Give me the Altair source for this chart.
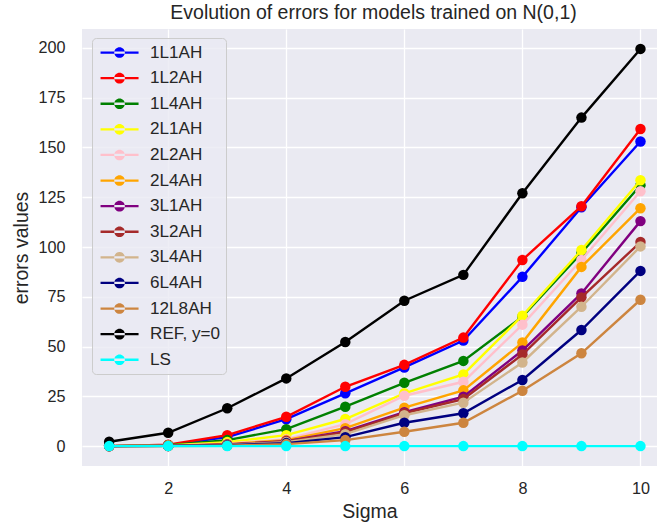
import altair as alt
import pandas as pd

# Noise level on the x axis
sigma = [1, 2, 3, 4, 5, 6, 7, 8, 9, 10]

# Error values per model
series_names = ["1L1AH", "1L2AH", "1L4AH", "2L1AH", "2L2AH", "2L4AH", "3L1AH",
                "3L2AH", "3L4AH", "6L4AH", "12L8AH", "REF, y=0", "LS"]
series_colors = ["#0000FF", "#FF0000", "#008000", "#FFFF00", "#FFC0CB", "#FFA500",
                 "#800080", "#A52A2A", "#D2B48C", "#000080", "#CD853F", "#000000",
                 "#00FFFF"]

err_1l1ah = [0.0, 0.5, 4.5, 13.5, 26.5, 39.5, 53.0, 85.0, 120.0, 153.0]
err_1l2ah = [0.0, 0.7, 5.5, 14.7, 29.8, 40.8, 54.5, 93.5, 120.5, 159.3]
err_1l4ah = [0.0, 0.4, 3.0, 8.5, 19.8, 31.8, 42.8, 65.0, 97.0, 131.0]
err_2l1ah = [0.0, 0.3, 2.0, 5.5, 13.6, 26.5, 36.0, 65.5, 98.5, 133.5]
err_2l2ah = [0.0, 0.2, 1.2, 3.5, 11.0, 25.3, 32.3, 61.0, 93.5, 128.0]
err_2l4ah = [0.0, 0.2, 1.0, 3.0, 9.0, 19.3, 28.0, 52.0, 90.0, 119.5]
err_3l1ah = [0.0, 0.1, 0.8, 2.5, 7.5, 17.0, 24.8, 48.0, 76.7, 113.0]
err_3l2ah = [0.0, 0.1, 0.7, 2.3, 7.0, 16.5, 23.6, 46.0, 74.7, 102.5]
err_3l4ah = [0.0, 0.1, 0.6, 2.0, 6.0, 15.5, 21.8, 42.0, 70.0, 100.3]
err_6l4ah = [0.0, 0.1, 0.4, 1.5, 4.5, 11.7, 16.5, 33.2, 58.3, 88.0]
err_12l8ah = [0.0, 0.0, 0.2, 1.0, 3.0, 7.2, 11.7, 27.8, 46.6, 73.5]
err_ref = [2.2, 6.7, 19.0, 34.0, 52.3, 73.0, 86.0, 127.0, 165.0, 199.5]
err_ls = [0.0, 0.0, 0.0, 0.0, 0.0, 0.0, 0.0, 0.0, 0.0, 0.0]

all_errors = [err_1l1ah, err_1l2ah, err_1l4ah, err_2l1ah, err_2l2ah, err_2l4ah,
              err_3l1ah, err_3l2ah, err_3l4ah, err_6l4ah, err_12l8ah, err_ref, err_ls]

x_ticks = [2, 4, 6, 8, 10]
y_ticks = [0, 25, 50, 75, 100, 125, 150, 175, 200]

rows = []
for name, values in zip(series_names, all_errors):
    for s, v in zip(sigma, values):
        rows.append({"model": name, "sigma": s, "error": v})
df = pd.DataFrame(rows)

FONT = "Liberation Sans"
TEXT = "#262626"

# filled glyph: a thin bar with a dot in the middle (line-with-marker look)
legend_glyph = ("M-3.8,-0.23L3.8,-0.23L3.8,0.23L-3.8,0.23Z"
                "M-1.06,0A1.06,1.06,0,1,0,1.06,0A1.06,1.06,0,1,0,-1.06,0Z")

legend = alt.Legend(
    title=None,
    orient="none",
    legendX=10,
    legendY=9,
    symbolType=legend_glyph,
    symbolSize=100,
    symbolStrokeWidth=0,
    symbolOpacity=1,
    symbolOffset=13,
    labelOffset=22,
    labelFont=FONT,
    labelFontSize=17.1,
    labelColor=TEXT,
    padding=6,
    rowPadding=7.6,
    fillColor="rgba(234,234,242,0.8)",
    strokeColor="#CCCCCC",
    cornerRadius=4,
)

color = alt.Color(
    "model:N",
    scale=alt.Scale(domain=series_names, range=series_colors),
    sort=series_names,
    legend=legend,
)

x_enc = alt.X(
    "sigma:Q",
    scale=alt.Scale(domain=[0.54, 10.28], nice=False, zero=False),
    axis=alt.Axis(title="Sigma", values=x_ticks, format="d", labelPadding=14,
                  titlePadding=6),
)
y_enc = alt.Y(
    "error:Q",
    scale=alt.Scale(domain=[-10, 209.5], nice=False, zero=False),
    axis=alt.Axis(title="errors values", values=y_ticks, format="d",
                  labelPadding=17, titlePadding=6),
)

# each model: its markers and its line, stacked in series order
base = alt.Chart(df)
layers = []
for name in series_names:
    sub = base.transform_filter(alt.datum.model == name)
    layers.append(sub.mark_circle(size=110, opacity=1, clip=True).encode(
        x=x_enc, y=y_enc, color=color))
    layers.append(sub.mark_line(strokeWidth=2.4, clip=True).encode(
        x=x_enc, y=y_enc, color=color, order="sigma:Q"))

chart = alt.layer(*layers).properties(
    width=575,
    height=437,
    title=alt.TitleParams(
        "Evolution of errors for models trained on N(0,1)",
        font=FONT, fontSize=19.5, fontWeight="normal", color=TEXT,
        anchor="middle", baseline="alphabetic", offset=10, dx=4, dy=19.5,
    ),
    padding={"left": 82, "top": 29, "right": 0, "bottom": 59},
    autosize=alt.AutoSizeParams(type="none"),
    background="white",
).configure_view(
    fill="#EAEAF2", stroke=None
).configure_axis(
    grid=True,
    gridColor="white",
    gridWidth=1.3,
    domain=False,
    ticks=False,
    tickSize=0,
    labelFont=FONT,
    labelFontSize=16.2,
    labelColor=TEXT,
    titleFont=FONT,
    titleFontSize=19.5,
    titleFontWeight="normal",
    titleColor=TEXT,
)

chart.save("out.html", embed_options={"renderer": "svg", "actions": False})
